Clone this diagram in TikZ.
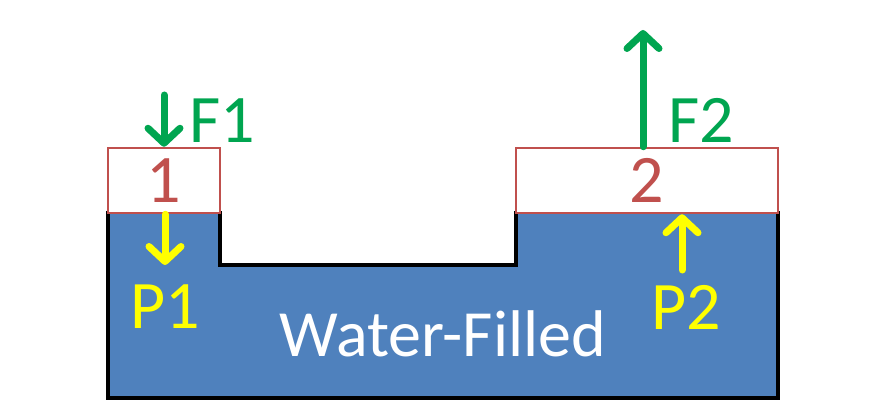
\documentclass[tikz,border=0pt]{standalone}
\usepackage{fontspec}
\setmainfont{Carlito}
\usetikzlibrary{arrows.meta}
\definecolor{water}{HTML}{4F81BD}
\definecolor{pist}{HTML}{C0504D}
\definecolor{force}{HTML}{00A550}
\definecolor{pres}{HTML}{FFFF00}
\begin{document}
\begin{tikzpicture}[x=1pt,y=-1pt,
  lbl/.style={font=\fontsize{68}{68}\selectfont, inner sep=0pt},
  piston/.style={draw=pist, line width=2.5pt, fill=white, minimum height=65pt,
    inner sep=0pt, text=pist, font=\fontsize{68}{68}\selectfont},
  farrow/.style={draw=force, line width=7pt, line cap=round,
    -{Straight Barb[length=15pt,width=32pt,round]}},
  parrow/.style={draw=pres, line width=7pt, line cap=round,
    -{Straight Barb[length=15pt,width=32pt,round]}},
  wall/.style={line width=4pt, line join=miter}]
\useasboundingbox[fill=white] (0,0) rectangle (884,412);
% water body
\fill[water] (108,213) -- (220,213) -- (220,265) -- (516,265) -- (516,213)
  -- (778,213) -- (778,398) -- (108,398) -- cycle;
\draw[wall] (108,211) -- (108,398) -- (778,398) -- (778,211);
\draw[wall] (220,211) -- (220,265) -- (516,265) -- (516,211);
% pistons
\node[piston, minimum width=112pt] (p1) at (164,180.5) {1};
\node[piston, minimum width=262pt] (p2) at (647,180.5) {2};
% labels
\node[lbl, text=force] (f1) at (222,121) {F1};
\node[lbl, text=force] (f2) at (701,120) {F2};
\node[lbl, text=pres] (pl1) at (165,307) {P1};
\node[lbl, text=pres] (pl2) at (686,307) {P2};
\node[font=\fontsize{66}{66}\selectfont, text=white, inner sep=0pt] (wf) at (443,334) {Water-Filled};
% arrows
\coordinate (f1tail) at (164,95);
\draw[farrow] (f1tail) -- (f1tail |- p1.north);
\coordinate (f2tip) at (643,30);
\draw[farrow] (f2tip |- p2.north) -- (f2tip);
\coordinate (p1tip) at (165,265);
\draw[parrow] (p1tip |- p1.south) -- (p1tip);
\coordinate (p2tail) at (682,270);
\draw[parrow] (p2tail) -- (p2tail |- p2.south);
\end{tikzpicture}
\end{document}
